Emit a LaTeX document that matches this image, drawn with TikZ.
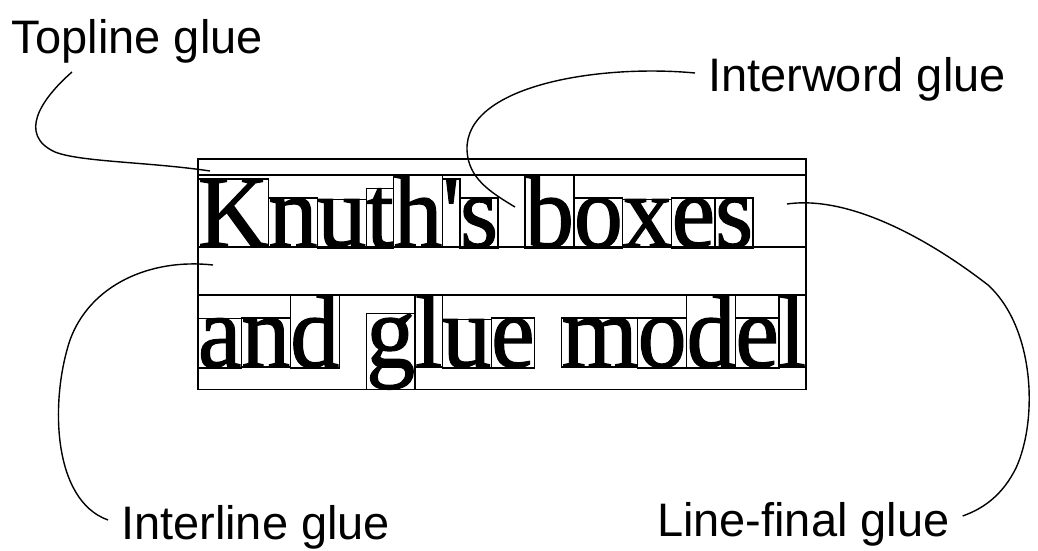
\documentclass[tikz,border=0pt]{standalone}
\usepackage{fontspec}
\usetikzlibrary{calc}
\newfontfamily\bodyfont[FakeStretch=0.94,FakeBold=1.2,Ligatures=TeXOff]{Liberation Serif}
\newfontfamily\labelfont{Liberation Sans}
\newcommand\bodysize{\bodyfont\fontsize{104}{104}\selectfont}
\newlength\wordsW
\begin{document}
% natural width of the three words of the second line
\settowidth\wordsW{\bodysize andgluemodel}
\begin{tikzpicture}[x=1pt,y=-1pt,
  glyphbox/.style={draw,line width=1.3pt,inner sep=0pt,outer sep=0pt,anchor=base west,
    font=\bodysize},
  gluelabel/.style={inner sep=0pt,outer sep=0pt,anchor=base west,
    font=\labelfont\fontsize{47}{47}\selectfont},
  framerule/.style={line width=1.8pt},
  leader/.style={line width=1.4pt}]
\useasboundingbox (0,0) rectangle (1038,551);

% ---- first line: Knuth's boxes (natural spacing, ends with line-final glue)
\coordinate (base1) at (198,247);
\node[glyphbox] (k1) at (base1) {K};
\node[glyphbox] (k2) at (k1.base east) {n};
\node[glyphbox] (k3) at (k2.base east) {u};
\node[glyphbox] (k4) at (k3.base east) {t};
\node[glyphbox] (k5) at (k4.base east) {h};
\node[glyphbox] (k6) at (k5.base east) {'};
\node[glyphbox] (k7) at (k6.base east) {s};
\node[glyphbox] (b1) at ([xshift=27pt]k7.base east) {b};
\node[glyphbox] (b2) at (b1.base east) {o};
\node[glyphbox] (b3) at (b2.base east) {x};
\node[glyphbox] (b4) at (b3.base east) {e};
\node[glyphbox] (b5) at (b4.base east) {s};

% ---- second line: and glue model (justified to the full measure)
\pgfmathsetlengthmacro\gap{(608pt-\wordsW)/2}
\coordinate (base2) at (198,367);
\node[glyphbox] (a1) at (base2) {a};
\node[glyphbox] (a2) at (a1.base east) {n};
\node[glyphbox] (a3) at (a2.base east) {d};
\node[glyphbox] (g1) at ([xshift=\gap]a3.base east) {g};
\node[glyphbox] (g2) at (g1.base east) {l};
\node[glyphbox] (g3) at (g2.base east) {u};
\node[glyphbox] (g4) at (g3.base east) {e};
\node[glyphbox] (m1) at ([xshift=\gap]g4.base east) {m};
\node[glyphbox] (m2) at (m1.base east) {o};
\node[glyphbox] (m3) at (m2.base east) {d};
\node[glyphbox] (m4) at (m3.base east) {e};
\node[glyphbox] (m5) at (m4.base east) {l};

% ---- line boxes and the enclosing vertical box
\coordinate (fl) at (198,159);
\coordinate (fr) at (806,159);
\draw[framerule] (fl |- b1.north) rectangle (fr |- base1);
\draw[framerule] (fl |- m3.north) rectangle (fr |- g1.south);
\draw[framerule] (fl) rectangle (fr |- g1.south);

% ---- labels
\node[gluelabel] (tl) at (12,53) {Topline glue};
\node[gluelabel] (iw) at (708,92) {Interword glue};
\node[gluelabel] (il) at (121,539) {Interline glue};
\node[gluelabel] (lf) at (657,536) {Line-final glue};

% ---- points inside the glue being named
\coordinate (tl-end) at (210,171);
\coordinate (iw-end) at (515,207);
\coordinate (lf-end) at (787,204);
\coordinate (il-end) at (213,265);

% ---- leader curves
\draw[leader] ($(tl.base west)+(60,19)$)
  .. controls (40,100) and (18,135) .. (55,152)
  .. controls (80,162) and (150,162) .. (tl-end);
\draw[leader] ($(iw.base west)+(-13,-19)$)
  .. controls (600,64) and (465,85) .. (467,150)
  .. controls (468,178) and (490,192) .. (iw-end);
\draw[leader] (lf-end)
  .. controls (850,195) and (930,240) .. (988,285)
  .. controls (1035,328) and (1038,420) .. (1016,468)
  .. controls (1003,494) and (985,508) .. ($(lf.base east)+(13,-20)$);
\draw[leader] (il-end)
  .. controls (150,258) and (90,285) .. (70,340)
  .. controls (50,400) and (52,500) .. ($(il.base west)+(-13,-19)$);
\end{tikzpicture}
\end{document}
